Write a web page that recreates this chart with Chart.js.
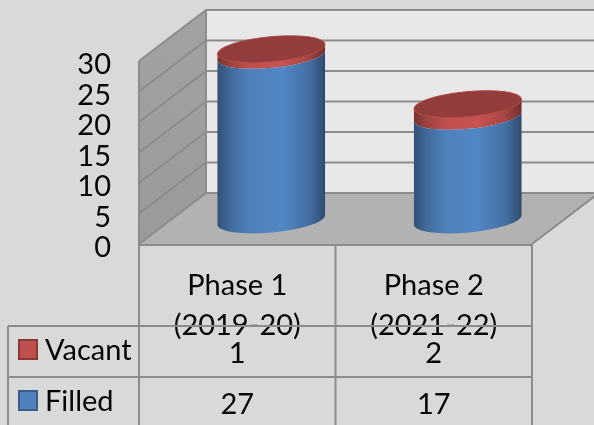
<!DOCTYPE html>
<html>
<head>
<meta charset="utf-8">
<style>html,body{margin:0;padding:0;background:#d9d9d9}canvas{display:block}</style>
<script src="https://cdn.jsdelivr.net/npm/chart.js@4/dist/chart.umd.js"></script>
</head>
<body>
<canvas id="c" width="594" height="425"></canvas>
<script>
const categories = [["Phase 1", "(2019-20)"], ["Phase 2", "(2021-22)"]];
const filled = [27, 17];
const vacant = [1, 2];
const seriesNames = ["Vacant", "Filled"];
const blue = "#4f81bd";
const red = "#c0504d";
const LINE = "#8c8c8c";
const FONT = "Lato, 'Open Sans', sans-serif";
const TILT = -5.3 * Math.PI / 180, RY = 12.5;
const DEPTH = { x: 67, y: -51 }, MID = { x: 34, y: -24 };

function shade(hex, f) {
  const n = parseInt(hex.slice(1), 16);
  const ch = s => Math.max(0, Math.min(255, Math.round(((n >> s) & 255) * f)));
  return `rgb(${ch(16)},${ch(8)},${ch(0)})`;
}

class CylinderEl extends Chart.BarElement {
  static id = "cylinderEl";
  static defaults = { ...Chart.BarElement.defaults };
  draw(ctx) {
    const { x, y, base, width, options } = this;
    const c = options.backgroundColor, rx = width / 2;
    const g = ctx.createLinearGradient(x - rx, 0, x + rx, 0);
    g.addColorStop(0, shade(c, 0.62));
    g.addColorStop(0.12, shade(c, 0.82));
    g.addColorStop(0.3, shade(c, 1.0));
    g.addColorStop(0.6, shade(c, 1.04));
    g.addColorStop(0.85, shade(c, 0.86));
    g.addColorStop(1, shade(c, 0.58));
    ctx.save();
    ctx.beginPath();
    ctx.ellipse(x, base, rx, RY, TILT, 0, Math.PI);
    ctx.ellipse(x, y, rx, RY, TILT, Math.PI, 0, true);
    ctx.closePath();
    ctx.fillStyle = g;
    ctx.fill();
    ctx.restore();
  }
}
class CylinderController extends Chart.BarController {
  static id = "cylinder";
  static defaults = { ...Chart.BarController.defaults, dataElementType: "cylinderEl" };
  static overrides = Chart.BarController.overrides;
}
Chart.register(CylinderEl, CylinderController);

const scene = {
  id: "scene",
  beforeDraw(chart) {
    const { ctx, width, height } = chart;
    ctx.save();
    ctx.fillStyle = "#d9d9d9";
    ctx.fillRect(0, 0, width, height);
    ctx.restore();
  },
  beforeDatasetsDraw(chart) {
    const { ctx, chartArea: a, scales: { y } } = chart;
    const y30 = y.getPixelForValue(30), y0 = y.getPixelForValue(0);
    ctx.save();
    ctx.fillStyle = "#e8e8e8";
    ctx.fillRect(a.left + DEPTH.x, y30 + DEPTH.y, a.width, y0 - y30);
    const lg = ctx.createLinearGradient(0, y30 + DEPTH.y, 0, y0);
    lg.addColorStop(0, "#a2a2a2");
    lg.addColorStop(1, "#9a9a9a");
    ctx.fillStyle = lg;
    ctx.beginPath();
    ctx.moveTo(a.left, y30);
    ctx.lineTo(a.left + DEPTH.x, y30 + DEPTH.y);
    ctx.lineTo(a.left + DEPTH.x, y0 + DEPTH.y);
    ctx.lineTo(a.left, y0);
    ctx.closePath();
    ctx.fill();
    ctx.fillStyle = "#b2b2b2";
    ctx.beginPath();
    ctx.moveTo(a.left, y0);
    ctx.lineTo(a.left + DEPTH.x, y0 + DEPTH.y);
    ctx.lineTo(a.right + DEPTH.x, y0 + DEPTH.y);
    ctx.lineTo(a.right, y0);
    ctx.closePath();
    ctx.fill();
    ctx.lineWidth = 2;
    y.ticks.forEach(t => {
      const py = y.getPixelForValue(t.value);
      ctx.strokeStyle = LINE;
      ctx.beginPath();
      ctx.moveTo(a.left, py);
      ctx.lineTo(a.left + DEPTH.x, py + DEPTH.y);
      ctx.lineTo(a.right + DEPTH.x, py + DEPTH.y);
      ctx.stroke();
    });
    ctx.strokeStyle = LINE;
    ctx.beginPath();
    ctx.moveTo(a.left + DEPTH.x, y30 + DEPTH.y);
    ctx.lineTo(a.left + DEPTH.x, y0 + DEPTH.y);
    ctx.moveTo(a.right, y0);
    ctx.lineTo(a.right + DEPTH.x, y0 + DEPTH.y);
    ctx.moveTo(a.left, y30);
    ctx.lineTo(a.left, y0);
    ctx.stroke();
    ctx.restore();
    ctx.save();
    ctx.translate(MID.x, MID.y);
  },
  afterDatasetsDraw(chart) {
    const { ctx } = chart;
    const top = chart.getDatasetMeta(chart.data.datasets.length - 1);
    top.data.forEach(el => {
      ctx.beginPath();
      ctx.ellipse(el.x, el.y, el.width / 2, RY, TILT, 0, Math.PI * 2);
      ctx.fillStyle = shade(el.options.backgroundColor, 0.76);
      ctx.fill();
      ctx.lineWidth = 1;
      ctx.strokeStyle = shade(el.options.backgroundColor, 0.9);
      ctx.stroke();
    });
    ctx.restore();
  },
  afterDraw(chart) {
    const { ctx, chartArea: a, scales: { x, y } } = chart;
    const left = 8, r1 = 326, r2 = 377, bottom = chart.height + 2;
    ctx.save();
    ctx.strokeStyle = LINE;
    ctx.lineWidth = 2;
    const mid = (x.getPixelForValue(0) + x.getPixelForValue(1)) / 2;
    ctx.beginPath();
    ctx.moveTo(a.left, y.bottom + 1); ctx.lineTo(a.right, y.bottom + 1);
    [a.left, mid, a.right].forEach(px => { ctx.moveTo(px, y.bottom); ctx.lineTo(px, bottom); });
    ctx.moveTo(left, r1); ctx.lineTo(left, bottom);
    [r1, r2].forEach(py => { ctx.moveTo(left, py); ctx.lineTo(a.right, py); });
    ctx.stroke();
    ctx.font = "29px " + FONT;
    ctx.textBaseline = "middle";
    const rows = [
      { name: seriesNames[0], values: vacant, color: red, y: 351 },
      { name: seriesNames[1], values: filled, color: blue, y: 402 }
    ];
    rows.forEach(row => {
      ctx.textAlign = "left";
      ctx.fillStyle = "#050505";
      ctx.fillText(row.name, 45, row.y);
      ctx.textAlign = "center";
      row.values.forEach((v, i) => ctx.fillText(String(v), x.getPixelForValue(i), row.y + 3));
      ctx.fillStyle = row.color;
      ctx.strokeStyle = shade(row.color, 0.72);
      ctx.lineWidth = 2;
      ctx.fillRect(19, row.y - 11, 18, 19);
      ctx.strokeRect(19, row.y - 11, 18, 19);
    });
    ctx.restore();
  }
};

new Chart(document.getElementById("c"), {
  type: "cylinder",
  data: {
    labels: categories,
    datasets: [
      { label: seriesNames[1], data: filled, backgroundColor: blue, clip: false },
      { label: seriesNames[0], data: vacant, backgroundColor: red, clip: false }
    ]
  },
  options: {
    responsive: false,
    animation: false,
    layout: { padding: { top: 61, right: 62, left: 0, bottom: 0 } },
    categoryPercentage: 1,
    barPercentage: 0.55,
    plugins: { legend: { display: false }, tooltip: { enabled: false }, title: { display: false } },
    scales: {
      x: {
        stacked: true,
        grid: { display: false, drawTicks: false },
        border: { display: false },
        afterFit(s) { s.height = 181; },
        ticks: { autoSkip: false, maxRotation: 0, minRotation: 0, padding: 22, color: "#050505",
                 font: { family: FONT, size: 29, lineHeight: 1.37 } }
      },
      y: {
        stacked: true,
        min: 0, max: 30,
        grid: { display: false, drawTicks: false },
        border: { display: false },
        afterFit(s) { s.width = 139; },
        ticks: { stepSize: 5, autoSkip: false, padding: 28, labelOffset: 4, color: "#050505",
                 font: { family: FONT, size: 29 } }
      }
    }
  },
  plugins: [scene]
});
</script>
</body>
</html>
